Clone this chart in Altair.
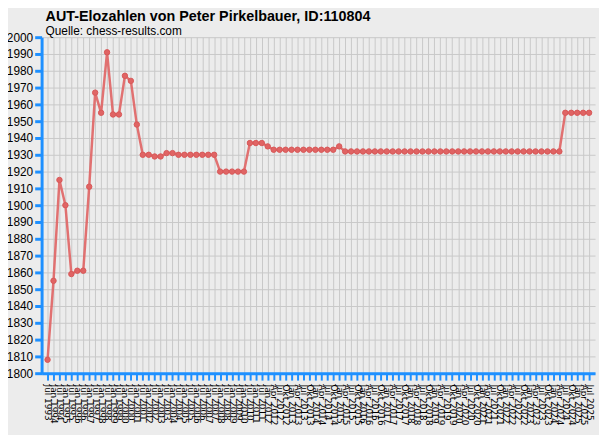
import altair as alt
import pandas as pd

dates = [
    "Jul 1993",
    "Jan 1994", "Jul 1994", "Jan 1995", "Jul 1995", "Jan 1996", "Jul 1996",
    "Jan 1997", "Jul 1997", "Jan 1998", "Jul 1998", "Jan 1999", "Jul 1999",
    "Jan 2000", "Jul 2000", "Jan 2001", "Jul 2001", "Jan 2002", "Jul 2002",
    "Jan 2003", "Jul 2003", "Jan 2004", "Jul 2004", "Jan 2005", "Jul 2005",
    "Jan 2006", "Jul 2006", "Jan 2007", "Jul 2007", "Jan 2008", "Jul 2008",
    "Jan 2009", "Jul 2009", "Jan 2010", "Jul 2010", "Jan 2011", "Jul 2011",
    "Jan 2012",
    "Apr 2012", "Jul 2012", "Okt 2012",
    "Jan 2013", "Apr 2013", "Jul 2013", "Okt 2013",
    "Jan 2014", "Apr 2014", "Jul 2014", "Okt 2014",
    "Jan 2015", "Apr 2015", "Jul 2015", "Okt 2015",
    "Jan 2016", "Apr 2016", "Jul 2016", "Okt 2016",
    "Jan 2017", "Apr 2017", "Jul 2017", "Okt 2017",
    "Jan 2018", "Apr 2018", "Jul 2018", "Okt 2018",
    "Jan 2019", "Apr 2019", "Jul 2019", "Okt 2019",
    "Jan 2020", "Apr 2020", "Jul 2020", "Okt 2020",
    "Jan 2021", "Apr 2021", "Jul 2021", "Okt 2021",
    "Jan 2022", "Apr 2022", "Jul 2022", "Okt 2022",
    "Jan 2023", "Apr 2023", "Jul 2023", "Okt 2023",
    "Jan 2024", "Apr 2024", "Jul 2024", "Okt 2024",
    "Jan 2025", "Apr 2025", "Jul 2025",
]

elo = [
    1808, 1855, 1915, 1900, 1859, 1861, 1861, 1911, 1967, 1955,
    1991, 1954, 1954, 1977, 1974, 1948, 1930, 1930, 1929, 1929,
    1931, 1931, 1930, 1930, 1930, 1930, 1930, 1930, 1930, 1920,
    1920, 1920, 1920, 1920, 1937, 1937, 1937, 1935, 1933, 1933,
    1933, 1933, 1933, 1933, 1933, 1933, 1933, 1933, 1933, 1935,
    1932, 1932, 1932, 1932, 1932, 1932, 1932, 1932, 1932, 1932,
    1932, 1932, 1932, 1932, 1932, 1932, 1932, 1932, 1932, 1932,
    1932, 1932, 1932, 1932, 1932, 1932, 1932, 1932, 1932, 1932,
    1932, 1932, 1932, 1932, 1932, 1932, 1932, 1955, 1955, 1955,
    1955, 1955,
]

y_ticks = list(range(1800, 2001, 10))

df = pd.DataFrame({"Datum": dates, "Elo": elo})

BLUE = "#1E90FF"
RED = "#E06464"

x = alt.X(
    "Datum:N",
    sort=dates,
    scale=alt.Scale(type="point", padding=1.2),
    axis=alt.Axis(
        title=None,
        labelAngle=90,
        labelFontSize=9,
        labelFont="DejaVu Sans",
        labelColor="#000000",
        labelOverlap=False,
        labelPadding=4,
        tickColor=BLUE,
        tickWidth=2,
        tickSize=7,
        domainColor=BLUE,
        domainWidth=3,
        grid=True,
        gridColor="#C8C8C8",
        gridWidth=1,
    ),
)
y = alt.Y(
    "Elo:Q",
    scale=alt.Scale(domain=[1800, 2000], nice=False, zero=False),
    axis=alt.Axis(
        title=None,
        values=y_ticks,
        format="d",
        labelFontSize=12,
        labelFont="Liberation Sans",
        labelColor="#000000",
        labelPadding=2,
        tickColor=BLUE,
        tickWidth=3,
        tickSize=7,
        domainColor=BLUE,
        domainWidth=3,
        grid=True,
        gridColor="#C8C8C8",
        gridWidth=1,
    ),
)

line = alt.Chart(df).mark_line(color=RED, strokeWidth=2.5, opacity=0.9).encode(x=x, y=y)
pts = alt.Chart(df).mark_circle(size=30, color=RED, opacity=1, stroke="#D85858", strokeWidth=1).encode(x=x, y=y)

chart = (
    alt.layer(line, pts)
    .properties(
        width=560,
        height=340,
        autosize=alt.AutoSizeParams(type="none"),
        padding={"left": 34, "top": 27, "right": 4, "bottom": 60},
        background="#ECECEC",
        title=alt.TitleParams(
            text="AUT-Elozahlen von Peter Pirkelbauer, ID:110804",
            subtitle="Quelle: chess-results.com",
            anchor="start",
            frame="group",
            dx=4,
            dy=7.5,
            offset=1,
            font="Liberation Sans",
            fontSize=14.5,
            fontWeight="bold",
            color="#000000",
            subtitleFont="Liberation Sans",
            subtitleFontSize=12,
            subtitleColor="#000000",
            subtitlePadding=1,
        ),
    )
    .configure_view(stroke=None, fill="#ECECEC")
)

chart.save("out.html", embed_options={"renderer": "svg", "actions": False})
